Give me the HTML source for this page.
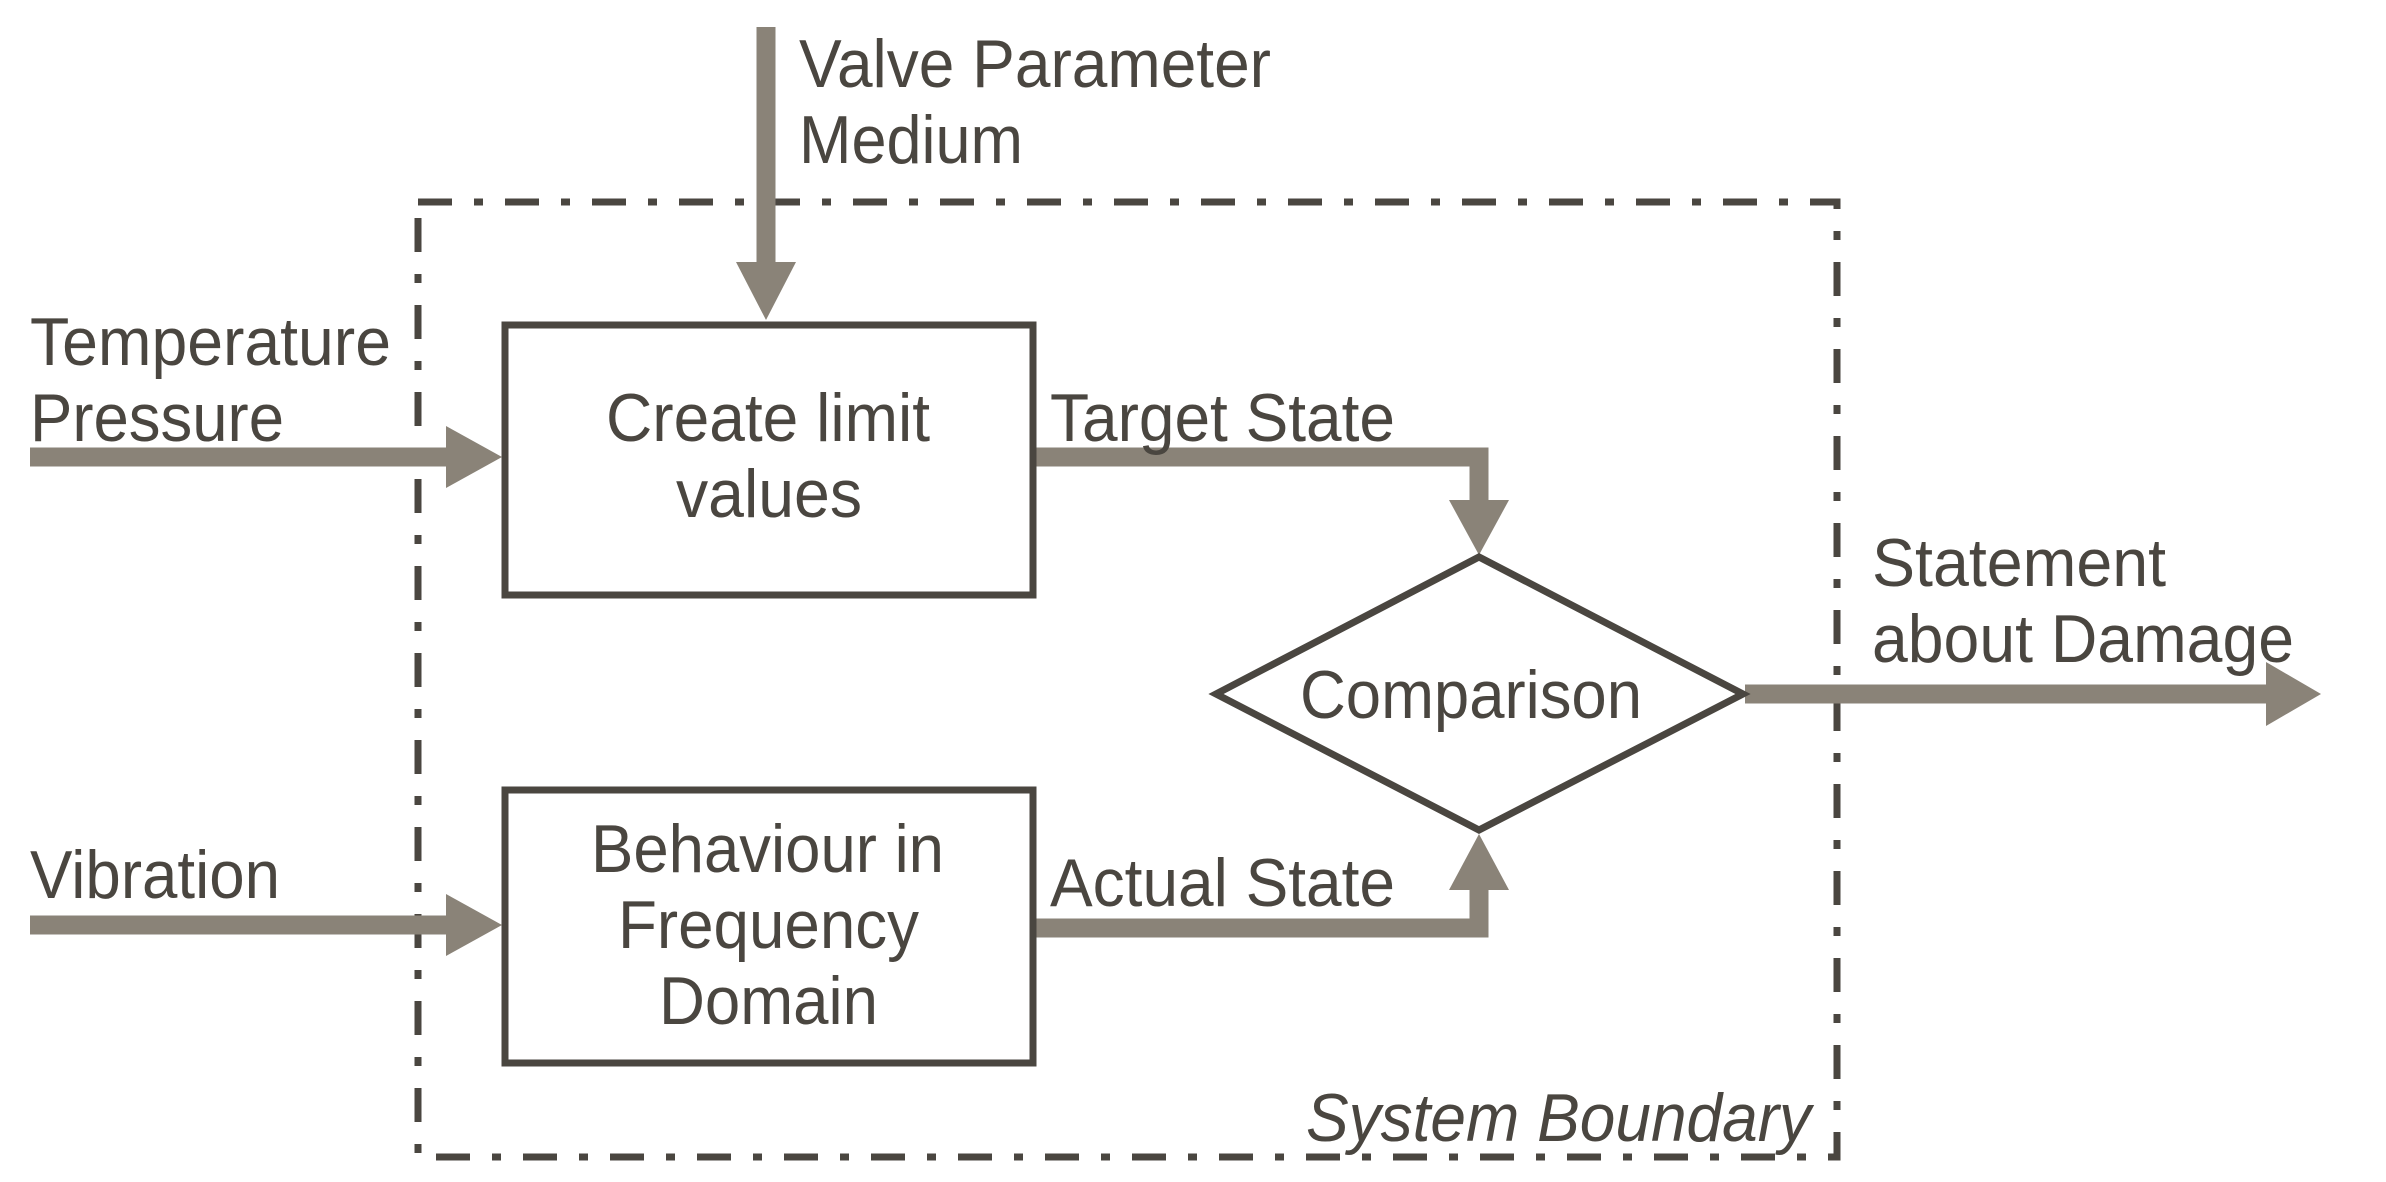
<!DOCTYPE html>
<html><head><meta charset="utf-8"><style>html,body{margin:0;padding:0;background:#fff}svg{display:block}</style></head>
<body>
<svg width="2386" height="1182" viewBox="0 0 2386 1182" xmlns="http://www.w3.org/2000/svg">
<g fill="none" stroke="#4a4640" stroke-width="7">
<rect x="418" y="202" width="1419" height="955" stroke-dasharray="34,22,9,22"/>
</g>
<g stroke="#8a8378" stroke-width="19" fill="none">
<line x1="766" y1="27" x2="766" y2="268"/>
<line x1="30" y1="457" x2="452" y2="457"/>
<line x1="30" y1="925" x2="452" y2="925"/>
<polyline points="1035,457 1479,457 1479,505"/>
<polyline points="1035,928 1479,928 1479,885"/>
<line x1="1745" y1="694" x2="2270" y2="694"/>
</g>
<g fill="#8a8378">
<polygon points="736,262 796,262 766,320"/>
<polygon points="446,426 446,488 502,457"/>
<polygon points="446,894 446,956 502,925"/>
<polygon points="1449,500 1509,500 1479,555"/>
<polygon points="1449,890 1509,890 1479,834"/>
<polygon points="2266,662 2266,726 2321,694"/>
</g>
<g fill="#fff" stroke="#4a4640" stroke-width="7">
<rect x="505" y="325" width="528" height="270"/>
<rect x="505" y="790" width="528" height="273"/>
<polygon points="1216,694 1479,557 1743,694 1479,830"/>
</g>
<g fill="#4a4640" font-family="Liberation Sans, sans-serif" font-size="68">
<text x="799" y="87" textLength="472" lengthAdjust="spacingAndGlyphs">Valve Parameter</text>
<text x="799" y="163" textLength="224" lengthAdjust="spacingAndGlyphs">Medium</text>
<text x="30" y="365" textLength="361" lengthAdjust="spacingAndGlyphs">Temperature</text>
<text x="30" y="441" textLength="254" lengthAdjust="spacingAndGlyphs">Pressure</text>
<text x="606" y="441" textLength="324" lengthAdjust="spacingAndGlyphs">Create limit</text>
<text x="676" y="517" textLength="186" lengthAdjust="spacingAndGlyphs">values</text>
<text x="1050" y="441" textLength="345" lengthAdjust="spacingAndGlyphs">Target State</text>
<text x="1872" y="586" textLength="294" lengthAdjust="spacingAndGlyphs">Statement</text>
<text x="1872" y="662" textLength="422" lengthAdjust="spacingAndGlyphs">about Damage</text>
<text x="1300" y="718" textLength="342" lengthAdjust="spacingAndGlyphs">Comparison</text>
<text x="30" y="898" textLength="250" lengthAdjust="spacingAndGlyphs">Vibration</text>
<text x="591" y="872" textLength="353" lengthAdjust="spacingAndGlyphs">Behaviour in</text>
<text x="618" y="948" textLength="301" lengthAdjust="spacingAndGlyphs">Frequency</text>
<text x="659" y="1024" textLength="219" lengthAdjust="spacingAndGlyphs">Domain</text>
<text x="1050" y="906" textLength="345" lengthAdjust="spacingAndGlyphs">Actual State</text>
<text x="1306" y="1141" textLength="505" lengthAdjust="spacingAndGlyphs" font-style="italic">System Boundary</text>
</g>
</svg>
</body></html>
